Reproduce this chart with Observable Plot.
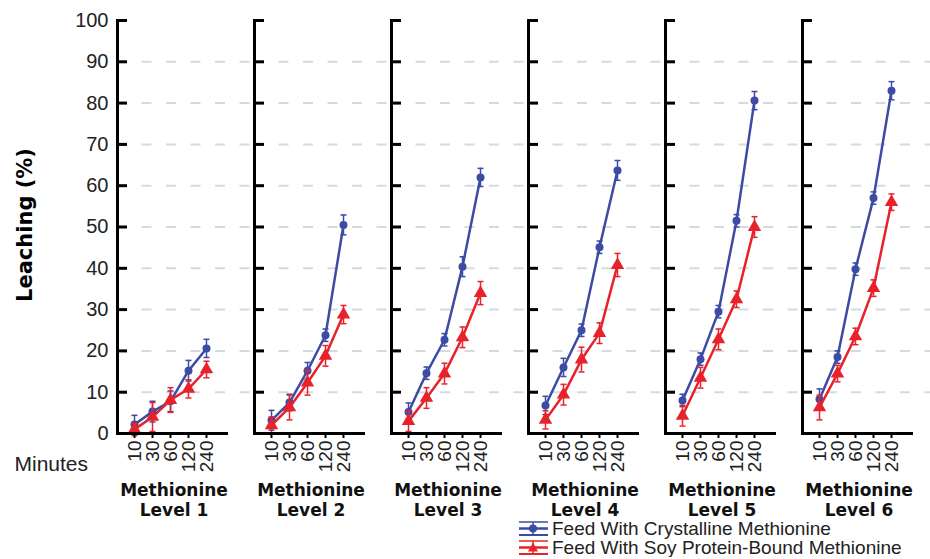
<!DOCTYPE html>
<html><head><meta charset="utf-8">
<script src="https://cdn.jsdelivr.net/npm/d3@7"></script>
<script src="https://cdn.jsdelivr.net/npm/@observablehq/plot@0.6"></script>
<style>
body{margin:0;background:#fff;overflow:hidden;}
#chart svg{display:block;}
#legend{margin-left:518px;font:19px "Liberation Sans",Arial,sans-serif;color:#222;line-height:19px;}
#legend .row{display:flex;align-items:center;height:19px;white-space:nowrap;}
#legend svg{display:block;margin-right:2px;}
</style></head><body>
<div id="chart"></div>
<div id="legend"></div>
<script>
const minutes = ["10", "30", "60", "120", "240"];
const levels = [1, 2, 3, 4, 5, 6];
const yTicks = [0, 10, 20, 30, 40, 50, 60, 70, 80, 90, 100];
const gridTicks = [10, 20, 30, 40, 50, 60, 70, 80, 90];
const seriesNames = ["Feed With Crystalline Methionine", "Feed With Soy Protein-Bound Methionine"];
const colors = ["#3c4ba4", "#e8222b"];

// Crystalline methionine (blue), one row per level, columns = minutes
const crystalline = [
  [2.2, 5.3, 7.8, 15.2, 20.6],
  [3.2, 7.5, 15.2, 23.8, 50.5],
  [5.2, 14.6, 22.7, 40.4, 62.0],
  [6.8, 16.0, 25.0, 45.1, 63.7],
  [8.0, 18.0, 29.5, 51.5, 80.6],
  [8.3, 18.5, 39.8, 57.0, 83.0]
];
const crystallineErr = [
  [2.2, 2.5, 2.5, 2.5, 2.2],
  [2.4, 2.0, 2.0, 1.5, 2.4],
  [2.2, 1.5, 1.5, 2.4, 2.2],
  [2.2, 2.2, 1.5, 1.5, 2.4],
  [1.5, 1.5, 1.5, 1.5, 2.2],
  [2.5, 1.5, 1.5, 1.5, 2.2]
];
// Soy protein-bound methionine (red)
const soy = [
  [1.0, 4.0, 8.1, 10.8, 15.5],
  [2.0, 6.3, 12.3, 18.8, 28.8],
  [3.0, 8.6, 14.5, 23.3, 34.0],
  [3.3, 9.4, 17.9, 24.3, 40.8],
  [4.3, 13.5, 22.8, 32.5, 50.0],
  [6.3, 14.5, 23.5, 35.2, 56.0]
];
const soyErr = [
  [1.5, 3.5, 3.0, 2.2, 2.0],
  [2.0, 3.0, 3.0, 2.5, 2.2],
  [2.5, 2.5, 2.5, 2.5, 2.8],
  [2.2, 2.5, 3.0, 2.5, 2.8],
  [2.5, 2.5, 2.5, 2.0, 2.5],
  [3.0, 2.0, 2.0, 2.0, 2.0]
];

function rowsOf(values, errs, series) {
  const out = [];
  levels.forEach((lv, i) => minutes.forEach((m, j) => {
    out.push({level: lv, minute: m, series, value: values[i][j], err: errs[i][j]});
  }));
  return out;
}
const blueRows = rowsOf(crystalline, crystallineErr, seriesNames[0]);
const redRows = rowsOf(soy, soyErr, seriesNames[1]);

const capSymbol = {draw(ctx, size) { const r = Math.sqrt(size / Math.PI); ctx.moveTo(-r, 0); ctx.lineTo(r, 0); }};

function seriesMarks(rows, color, symbol, r) {
  return [
    Plot.ruleX(rows, {fx: "level", x: "minute", y1: d => d.value - d.err, y2: d => d.value + d.err, stroke: color, strokeWidth: 1.5}),
    Plot.dot(rows, {fx: "level", x: "minute", y: d => d.value + d.err, symbol: capSymbol, r: 3, stroke: color, strokeWidth: 1.5}),
    Plot.dot(rows, {fx: "level", x: "minute", y: d => d.value - d.err, symbol: capSymbol, r: 3, stroke: color, strokeWidth: 1.5}),
    Plot.line(rows, {fx: "level", x: "minute", y: "value", stroke: color, strokeWidth: 2.5}),
    Plot.dot(rows, {fx: "level", x: "minute", y: "value", symbol, r, fill: color, stroke: "none"})
  ];
}

const chart = Plot.plot({
  width: 930,
  height: 519,
  marginTop: 20,
  marginBottom: 86,
  marginLeft: 117,
  marginRight: 0,
  style: {fontFamily: '"Liberation Sans", Arial, sans-serif', color: "#222", background: "#fff", overflow: "visible"},
  fx: {domain: levels, range: [117, 939], paddingInner: 0, paddingOuter: 0, axis: null, label: null},
  x: {domain: minutes, type: "point", padding: 0.8, insetRight: 31, label: null},
  y: {domain: [0, 100], label: null},
  marks: [
    Plot.gridY(gridTicks, {strokeDasharray: "10,14.5", stroke: "#d3dbe0", strokeOpacity: 1, strokeWidth: 2, insetRight: 3}),
    ...seriesMarks(blueRows, colors[0], "circle", 4),
    ...seriesMarks(redRows, colors[1], "triangle", 5),
    Plot.frame({anchor: "left", strokeWidth: 3, stroke: "#000"}),
    Plot.ruleY([0], {insetRight: 26, strokeWidth: 3, stroke: "#000"}),
    Plot.tickY(yTicks, {y: d => d, insetRight: 127, strokeWidth: 3, stroke: "#000"}),
    Plot.axisY(yTicks, {tickSize: 0, tickPadding: 9, fontSize: 20, label: null}),
    Plot.axisX({tickRotate: -90, tickSize: 5, tickPadding: 2, fontSize: 19, label: null, stroke: "#000", strokeWidth: 2}),
    Plot.text(["Leaching (%)"], {fx: () => levels[0], frameAnchor: "left", textAnchor: "middle", dx: -92, dy: -2, rotate: -90, text: d => d, fontSize: 21, fontWeight: "bold", fontFamily: '"DejaVu Sans", sans-serif', fill: "#000"}),
    Plot.text(["Minutes"], {fx: () => levels[0], frameAnchor: "bottom-left", dx: -103, dy: 37, textAnchor: "start", text: d => d, fontSize: 21, fill: "#222"}),
    Plot.text(levels, {fx: d => d, frameAnchor: "bottom", dx: -12, dy: 48, lineAnchor: "top", lineHeight: 1.18, text: d => `Methionine\nLevel ${d}`, fontSize: 17, fontWeight: "bold", fontFamily: '"DejaVu Sans", sans-serif', fill: "#111"})
  ]
});
document.getElementById("chart").appendChild(chart);

// Legend
const legend = document.getElementById("legend");
seriesNames.forEach((name, i) => {
  const row = document.createElement("div");
  row.className = "row";
  const c = colors[i];
  const marker = i === 0
    ? `<circle cx="15" cy="9.5" r="4" fill="${c}"/>`
    : `<path d="M15,4.5 L20,13.5 L10,13.5 Z" fill="${c}"/>`;
  row.innerHTML = `<svg width="32" height="19"><line x1="1" x2="30" y1="3" y2="3" stroke="${c}" stroke-width="1.5"/><line x1="1" x2="30" y1="9.5" y2="9.5" stroke="${c}" stroke-width="2.5"/><line x1="1" x2="30" y1="16" y2="16" stroke="${c}" stroke-width="2"/><line x1="15" x2="15" y1="3" y2="16" stroke="${c}" stroke-width="1.5"/>${marker}</svg><span>${name}</span>`;
  legend.appendChild(row);
});
</script>
</body></html>
